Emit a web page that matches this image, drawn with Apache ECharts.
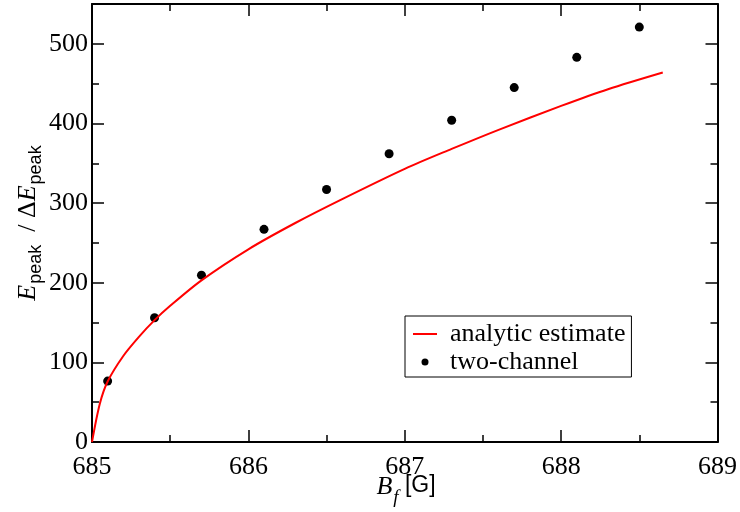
<!DOCTYPE html>
<html><head><meta charset="utf-8">
<script src="https://cdn.jsdelivr.net/npm/echarts@6/dist/echarts.min.js"></script>
<style>html,body{margin:0;padding:0;background:#fff}#c{width:740px;height:512px}</style>
</head><body><div id="c"></div>
<script>
const xMajorTicks = [685, 686, 687, 688, 689];
const xMinorTicks = [685.5, 686.5, 687.5, 688.5];
const yMajorTicks = [0, 100, 200, 300, 400, 500];
const yMinorTicks = [50, 150, 250, 350, 450];

const curveX = [685.0, 685.05, 685.1, 685.2, 685.3, 685.4, 685.5, 685.7, 686.0, 686.3, 686.6, 687.0, 687.3, 687.6, 688.0, 688.3, 688.65];
const curveY = [0, 48, 76, 108, 132, 153, 171, 203, 242, 275, 305, 343, 368, 392, 422, 443, 464];

const dotX = [685.1, 685.4, 685.7, 686.1, 686.5, 686.9, 687.3, 687.7, 688.1, 688.5];
const dotY = [76.5, 156, 209.5, 267, 317, 362, 404, 445, 483, 521];

const seriesNames = ['analytic estimate', 'two-channel'];

const SERIF = 'Liberation Serif';
const SANS = 'Liberation Sans';

function xAx(pos, ticks, len, showLine, labels) {
  return {
    type: 'value', position: pos, min: 685, max: 689, interval: 1,
    axisLine: {show: showLine, onZero: false, lineStyle: {color: '#000', width: 2}},
    axisTick: {show: true, inside: true, length: len, customValues: ticks, lineStyle: {color: '#000', width: 1.5}},
    axisLabel: labels ? {show: true, customValues: ticks, margin: 12, color: '#000', fontFamily: SERIF, fontSize: 26} : {show: false},
    splitLine: {show: false}
  };
}
function yAx(pos, ticks, len, showLine, labels) {
  return {
    type: 'value', position: pos, min: 0, max: 550, interval: 50,
    axisLine: {show: showLine, onZero: false, lineStyle: {color: '#000', width: 2}},
    axisTick: {show: true, inside: true, length: len, customValues: ticks, lineStyle: {color: '#000', width: 1.5}},
    axisLabel: labels ? {show: true, customValues: ticks, margin: 4, color: '#000', fontFamily: SERIF, fontSize: 26} : {show: false},
    splitLine: {show: false}
  };
}

const chart = echarts.init(document.getElementById('c'), null, {renderer: 'canvas'});
chart.setOption({
  animation: false,
  backgroundColor: '#fff',
  grid: {left: 92, right: 20, top: 4, bottom: 70, containLabel: false},
  xAxis: [
    xAx('bottom', xMajorTicks, 12, true, true),
    xAx('bottom', xMinorTicks, 7, false, false),
    xAx('top', xMajorTicks, 12, true, false),
    xAx('top', xMinorTicks, 7, false, false)
  ],
  yAxis: [
    yAx('left', yMajorTicks, 12, true, true),
    yAx('left', yMinorTicks, 7, false, false),
    yAx('right', yMajorTicks, 12, true, false),
    yAx('right', yMinorTicks, 7, false, false)
  ],
  legend: {
    orient: 'vertical', left: 405, top: 316, align: 'left',
    backgroundColor: '#fff', borderColor: '#000', borderWidth: 1, borderRadius: 0,
    padding: [5, 6, 2, 8], itemGap: 2, itemWidth: 24, itemHeight: 7,
    textStyle: {fontFamily: SERIF, fontSize: 26, lineHeight: 26, color: '#000', padding: [0, 0, 0, 8]},
    data: [
      {name: seriesNames[0], icon: 'path://M0,0 L24,0 L24,2 L0,2 Z'},
      {name: seriesNames[1], icon: 'circle'}
    ]
  },
  series: [
    {
      name: seriesNames[0], type: 'line', xAxisIndex: 0, yAxisIndex: 0,
      data: curveX.map((x, i) => [x, curveY[i]]),
      symbol: 'none', smooth: 0.3,
      lineStyle: {color: '#ff0000', width: 2}, itemStyle: {color: '#ff0000'}
    },
    {
      name: seriesNames[1], type: 'scatter', xAxisIndex: 0, yAxisIndex: 0,
      data: dotX.map((x, i) => [x, dotY[i]]),
      symbol: 'circle', symbolSize: 9, itemStyle: {color: '#000', opacity: 1}
    }
  ],
  graphic: [
    {
      type: 'text', x: 406, y: 487,
      style: {
        text: '{b|B}{f|f}{g| [G]}',
        align: 'center', verticalAlign: 'middle',
        rich: {
          b: {fontFamily: SERIF, fontStyle: 'italic', fontSize: 26, lineHeight: 26, verticalAlign: 'top', fill: '#000'},
          f: {fontFamily: SERIF, fontStyle: 'italic', fontSize: 19, lineHeight: 19, verticalAlign: 'top', padding: [14, 0, 0, 1], fill: '#000'},
          g: {fontFamily: SANS, fontSize: 23, lineHeight: 26, verticalAlign: 'top', fill: '#000'}
        }
      }
    },
    {
      type: 'text', x: 28, y: 223, rotation: Math.PI / 2,
      style: {
        text: '{e|E}{s|peak}{n|  / Δ}{e|E}{s|peak}',
        align: 'center', verticalAlign: 'middle',
        rich: {
          e: {fontFamily: SERIF, fontStyle: 'italic', fontSize: 26, lineHeight: 26, verticalAlign: 'top', fill: '#000'},
          n: {fontFamily: SERIF, fontSize: 26, lineHeight: 26, verticalAlign: 'top', fill: '#000'},
          s: {fontFamily: SANS, fontSize: 18, lineHeight: 18, verticalAlign: 'top', padding: [12, 0, 0, 1], fill: '#000'}
        }
      }
    }
  ]
});
</script></body></html>
